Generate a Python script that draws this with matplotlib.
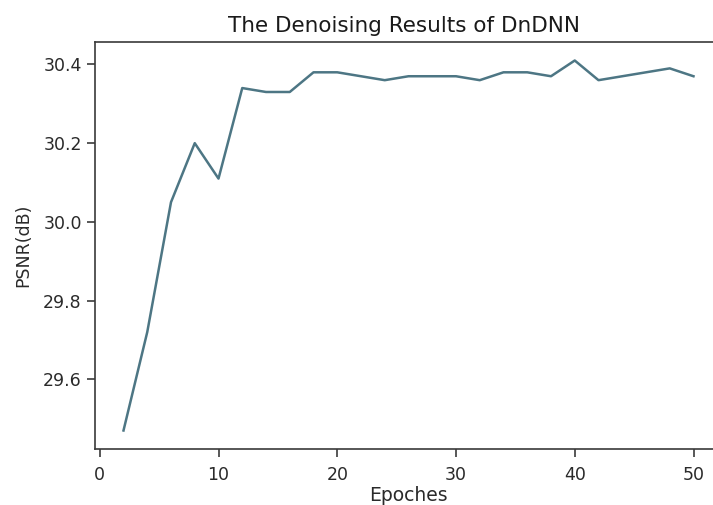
import matplotlib
matplotlib.use("Agg")
import matplotlib.pyplot as plt

epochs = [2, 4, 6, 8, 10, 12, 14, 16, 18, 20, 22, 24, 26, 28, 30,
          32, 34, 36, 38, 40, 42, 44, 46, 48, 50]
psnr = [29.47, 29.72, 30.05, 30.20, 30.11, 30.34, 30.33, 30.33, 30.38, 30.38,
        30.37, 30.36, 30.37, 30.37, 30.37, 30.36, 30.38, 30.38, 30.37, 30.41,
        30.36, 30.37, 30.38, 30.39, 30.37]
xticks = [0, 10, 20, 30, 40, 50]
yticks = [29.6, 29.8, 30.0, 30.2, 30.4]

W, H = 713, 505
fig = plt.figure(figsize=(W / 100, H / 100), dpi=100)
left, right, top, bottom = 95, 722, 42, 449
ax = fig.add_axes([left / W, (H - bottom) / H, (right - left) / W, (bottom - top) / H])
ax.plot(epochs, psnr, color="#4d7684", linewidth=1.8)
ax.set_xticks(xticks)
ax.set_yticks(yticks)
ax.set_yticklabels([f"{v:.1f}" for v in yticks])
ax.tick_params(labelsize=12.5, colors="#2a2a2a", length=5.5, width=1.1)
ax.tick_params(axis="x", pad=6.5)
ax.tick_params(axis="y", pad=4)
for s in ax.spines.values():
    s.set_color("#3a3a3a")
    s.set_linewidth(1.2)
ax.spines["right"].set_visible(False)
ax.set_xlabel("Epoches", fontsize=13.5, labelpad=1.5, color="#2a2a2a")
ax.set_ylabel("PSNR(dB)", fontsize=12.5, labelpad=8, color="#2a2a2a")
ax.set_title("The Denoising Results of DnDNN", fontsize=15.5, pad=7, color="#1a1a1a", x=0.493)
fig.savefig("out.png", dpi=100)
